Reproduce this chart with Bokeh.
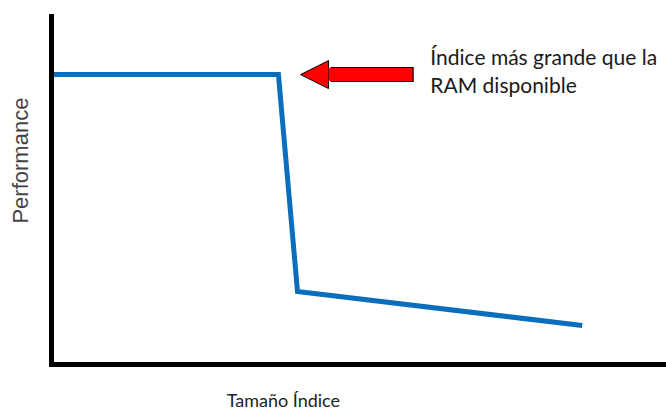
import math
from bokeh.plotting import figure
from bokeh.models import Range1d, FixedTicker, Arrow, NormalHead, Label
from bokeh.embed import file_html
from bokeh.resources import INLINE

# Data (relative units, 0-100)
index_size = [0, 36.9, 40.0, 86.3]
performance = [83.3, 83.3, 21.0, 11.2]

annotation_lines = ["Índice más grande que la", "RAM disponible"]
x_label = "Tamaño Índice"
y_label = "Performance"

# frame covers the whole canvas; axes are drawn at fixed locations inside it
p = figure(width=666, height=412, x_range=Range1d(-8.29, 100), y_range=Range1d(-13.79, 104.6),
           output_backend="svg", toolbar_location=None,
           min_border_left=0, min_border_right=0, min_border_top=0, min_border_bottom=0)
p.outline_line_color = None
p.grid.visible = False
p.background_fill_color = "white"
p.border_fill_color = "white"

for ax in (p.xaxis[0], p.yaxis[0]):
    ax.fixed_location = 0
    ax.bounds = (0, 100)
    ax.ticker = FixedTicker(ticks=[])
    ax.axis_line_width = 5
    ax.axis_line_color = "black"
    ax.axis_line_cap = "square"
    ax.major_tick_out = 0
    ax.major_tick_in = 0
    ax.minor_tick_out = 0
    ax.minor_tick_in = 0
    ax.major_label_standoff = 0
    ax.major_label_text_font_size = "0px"
    ax.axis_label = None

p.line(index_size, performance, line_color="#0a6ebd", line_width=5, line_join="miter")

# axis titles
p.add_layout(Label(x=37.7, y=-10.2, text=x_label, text_font="Lato", text_font_size="18px",
                   text_align="center", text_baseline="middle", text_color="#222222"))
p.add_layout(Label(x=-5.0, y=58.6, text=y_label, text_font="Liberation Sans",
                   text_font_size="22px", angle=math.pi / 2, text_align="center",
                   text_baseline="middle", text_color="#444444"))

# arrow pointing at the drop
tip_x, tail_x, base_x, arrow_y = 40.5, 58.7, 45.4, 83.3
p.add_layout(Arrow(end=None, x_start=tail_x + 0.2, y_start=arrow_y, x_end=base_x,
                   y_end=arrow_y, line_color="black", line_width=15))
p.add_layout(Arrow(end=NormalHead(size=28, fill_color="#ff0000", line_color="black", line_width=1),
                   x_start=tail_x, y_start=arrow_y, x_end=tip_x, y_end=arrow_y,
                   line_color="#ff0000", line_width=13))

for txt, yy in zip(annotation_lines, [88.5, 80.5]):
    p.add_layout(Label(x=61.6, y=yy, text=txt, text_font="Lato", text_font_size="21px",
                       text_baseline="alphabetic", text_color="#1a1a1a"))

open("out.html", "w").write(file_html(p, INLINE))
